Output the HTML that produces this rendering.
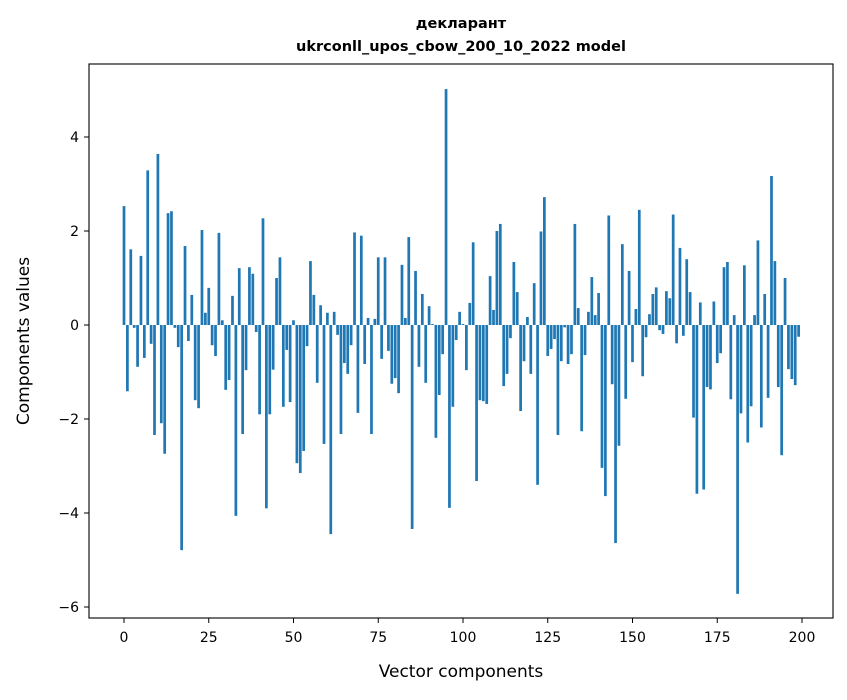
<!DOCTYPE html>
<html><head><meta charset="utf-8"><style>
body{margin:0;background:#fff;font-family:"DejaVu Sans","Liberation Sans",sans-serif;}
text{font-family:"DejaVu Sans","Liberation Sans",sans-serif;}
</style></head><body>
<svg width="847" height="696" xmlns="http://www.w3.org/2000/svg">
<rect width="847" height="696" fill="#fff"/>
<text x="461" y="28" text-anchor="middle" font-size="14.5" font-weight="bold">декларант</text>
<text x="461" y="51" text-anchor="middle" font-size="14.5" font-weight="bold">ukrconll_upos_cbow_200_10_2022 model</text>
<g id="bars"></g>
<rect x="89" y="64" width="744" height="554" fill="none" stroke="#000" stroke-width="1.1"/>
<g id="xt"></g>
<g id="yt"></g>
<text x="461" y="677" text-anchor="middle" font-size="17">Vector components</text>
<text transform="translate(29,341) rotate(-90)" text-anchor="middle" font-size="17">Components values</text>
</svg>
<script>
const values=[2.53,-1.41,1.61,-0.06,-0.89,1.47,-0.7,3.29,-0.4,-2.34,3.64,-2.09,-2.74,2.38,2.42,-0.06,-0.47,-4.79,1.68,-0.34,
0.64,-1.6,-1.77,2.02,0.26,0.79,-0.43,-0.66,1.96,0.1,-1.38,-1.17,0.62,-4.06,1.21,-2.32,-0.96,1.23,1.09,-0.15,
-1.9,2.27,-3.9,-1.9,-0.95,1.0,1.44,-1.74,-0.53,-1.64,0.1,-2.94,-3.15,-2.68,-0.45,1.36,0.64,-1.23,0.42,-2.53,
0.26,-4.45,0.28,-0.21,-2.32,-0.81,-1.04,-0.43,1.97,-1.87,1.9,-0.83,0.15,-2.32,0.13,1.44,-0.72,1.44,-0.55,-1.25,
-1.13,-1.45,1.28,0.15,1.87,-4.34,1.15,-0.89,0.66,-1.23,0.4,0.02,-2.4,-1.49,-0.62,5.02,-3.89,-1.74,-0.32,0.28,
0.02,-0.96,0.47,1.76,-3.32,-1.6,-1.62,-1.68,1.04,0.32,2.0,2.15,-1.3,-1.04,-0.28,1.34,0.7,-1.83,-0.77,0.17,
-1.04,0.89,-3.4,1.99,2.72,-0.66,-0.51,-0.3,-2.34,-0.77,-0.05,-0.83,-0.62,2.15,0.36,-2.26,-0.64,0.28,1.02,0.21,
0.68,-3.04,-3.64,2.33,-1.26,-4.64,-2.57,1.72,-1.57,1.15,-0.79,0.34,2.45,-1.09,-0.26,0.23,0.66,0.8,-0.11,-0.19,
0.72,0.57,2.35,-0.39,1.64,-0.23,1.4,0.7,-1.97,-3.59,0.48,-3.5,-1.32,-1.37,0.5,-0.81,-0.6,1.23,1.34,-1.58,
0.21,-5.72,-1.88,1.27,-2.5,-1.73,0.21,1.8,-2.18,0.66,-1.55,3.17,1.36,-1.32,-2.77,1.0,-0.94,-1.15,-1.28,-0.25];
const xTicks=[0,25,50,75,100,125,150,175,200];
const yTicks=[-6,-4,-2,0,2,4];
const NS="http://www.w3.org/2000/svg";
const X=v=>124+v*3.39, Y=v=>325-v*47;
const bg=document.getElementById('bars');
values.forEach((v,i)=>{
 const r=document.createElementNS(NS,'rect');
 
 
 const w=3.39*0.8;
 r.setAttribute('x',X(i)-w/2);r.setAttribute('width',w);
 r.setAttribute('y',Math.min(Y(v),Y(0)));r.setAttribute('height',Math.abs(Y(v)-Y(0)));
 r.setAttribute('fill','#1f77b4');bg.appendChild(r);
});
const xt=document.getElementById('xt');
xTicks.forEach(t=>{
 const l=document.createElementNS(NS,'line');
 
 
 l.setAttribute('x1',X(t));l.setAttribute('x2',X(t));l.setAttribute('y1',618);l.setAttribute('y2',623);l.setAttribute('stroke','#000');xt.appendChild(l);
 const s=document.createElementNS(NS,'text');
 
 
 s.setAttribute('x',X(t));s.setAttribute('y',642);s.setAttribute('text-anchor','middle');s.setAttribute('font-size','14');s.textContent=t;xt.appendChild(s);
});
const yt=document.getElementById('yt');
yTicks.forEach(t=>{
 const l=document.createElementNS(NS,'line');
 
 
 l.setAttribute('x1',84);l.setAttribute('x2',89);l.setAttribute('y1',Y(t));l.setAttribute('y2',Y(t));l.setAttribute('stroke','#000');yt.appendChild(l);
 const s=document.createElementNS(NS,'text');
 
 
 s.setAttribute('x',79);s.setAttribute('y',Y(t)+5);s.setAttribute('text-anchor','end');s.setAttribute('font-size','14');s.textContent=(t<0?'\u2212'+(-t):t);yt.appendChild(s);
});
</script>
</body></html>
